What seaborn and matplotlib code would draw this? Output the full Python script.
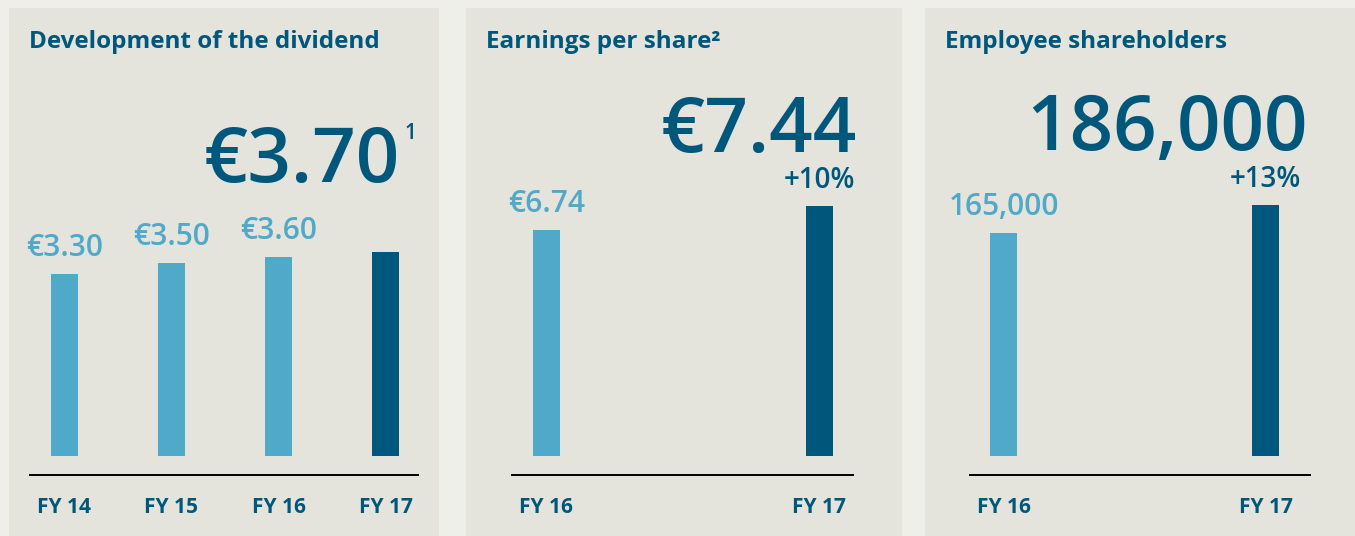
import matplotlib
matplotlib.use("Agg")
import matplotlib.pyplot as plt
import seaborn as sns
from matplotlib.patches import Rectangle

# ---------------- data ----------------
div_years = ["FY 14", "FY 15", "FY 16", "FY 17"]
div_values = [3.30, 3.50, 3.60, 3.70]
div_labels = ["€3.30", "€3.50", "€3.60", ""]

eps_years = ["FY 16", "FY 17"]
eps_values = [6.74, 7.44]
eps_labels = ["€6.74", "+10%"]

emp_years = ["FY 16", "FY 17"]
emp_values = [165000, 186000]
emp_labels = ["165,000", "+13%"]

titles = ["Development of the dividend", "Earnings per share²", "Employee shareholders"]
big_numbers = ["€3.70", "€7.44", "186,000"]

# ---------------- style ----------------
W, H = 1355, 536
DARK = "#00577c"
LIGHT = "#50a9c8"
PANEL = "#e4e3dc"
OUTER = "#efefe9"

sns.set_theme(style="white")
plt.rcParams["font.family"] = ["Open Sans", "DejaVu Sans"]

fig = plt.figure(figsize=(W / 100, H / 100), dpi=100, facecolor=OUTER)


def fx(px):
    return px / W


def fy(py):
    return 1 - py / H


# panel backgrounds
panels = [(9, 439), (466, 902), (925, 1355)]
for x0, x1 in panels:
    fig.add_artist(Rectangle((fx(x0), 0), fx(x1) - fx(x0), fy(8),
                             transform=fig.transFigure, facecolor=PANEL,
                             edgecolor="none", zorder=-1))

AX_TOP, AX_BOT, ZERO = 100, 475, 456


def make_panel(x0, x1, cats, vals, labels, colors, ymax, xlim, width):
    ax = fig.add_axes([fx(x0), fy(AX_BOT), fx(x1) - fx(x0), (AX_BOT - AX_TOP) / H])
    ax.set_facecolor("none")
    sns.barplot(x=cats, y=vals, hue=cats, palette=colors, width=width,
                saturation=1, legend=False, linewidth=0, edgecolor="none", ax=ax)
    ax.set_xlim(*xlim)
    ax.set_ylim(-ymax * (AX_BOT - ZERO) / (ZERO - AX_TOP), ymax)
    sns.despine(ax=ax, left=True)
    ax.spines["bottom"].set_color("black")
    ax.spines["bottom"].set_linewidth(1.4)
    ax.set_yticks([])
    ax.set_xlabel("")
    ax.set_ylabel("")
    ax.tick_params(axis="x", length=0, pad=16, labelcolor=DARK, labelsize=15)
    for t in ax.get_xticklabels():
        t.set_fontweight("bold")
    for i, (v, lab, c) in enumerate(zip(vals, labels, colors)):
        if not lab:
            continue
        dark = c == DARK
        ax.annotate(lab, (i, v), xytext=(0, 18), textcoords="offset pixels",
                    ha="center", va="baseline", color=c,
                    fontsize=20 if dark else 21.5,
                    fontweight="semibold")
    return ax


make_panel(30, 418, div_years, div_values, div_labels,
           [LIGHT, LIGHT, LIGHT, DARK], 6.45, (-0.322, 3.304), 0.252)
make_panel(512, 853, eps_years, eps_values, eps_labels,
           [LIGHT, DARK], 10.61, (-0.126, 1.123), 0.099)
make_panel(970, 1310, emp_years, emp_values, emp_labels,
           [LIGHT, DARK], 263700, (-0.128, 1.170), 0.103)

# titles
for (x0, _), t in zip(panels, titles):
    fig.text(fx(x0 + 20), fy(47.5), t, color=DARK, fontsize=17.5,
             fontweight="bold", ha="left", va="baseline")

# big headline numbers
big_pos = [(400, 182), (857, 152), (1308, 150)]
for (x, y), t in zip(big_pos, big_numbers):
    fig.text(fx(x), fy(y), t, color=DARK, fontsize=55, fontweight="semibold",
             ha="right", va="baseline")
fig.text(fx(404), fy(139), "1", color=DARK, fontsize=15, fontweight="semibold",
         ha="left", va="baseline")

fig.savefig("out.png", dpi=100, facecolor=OUTER)
